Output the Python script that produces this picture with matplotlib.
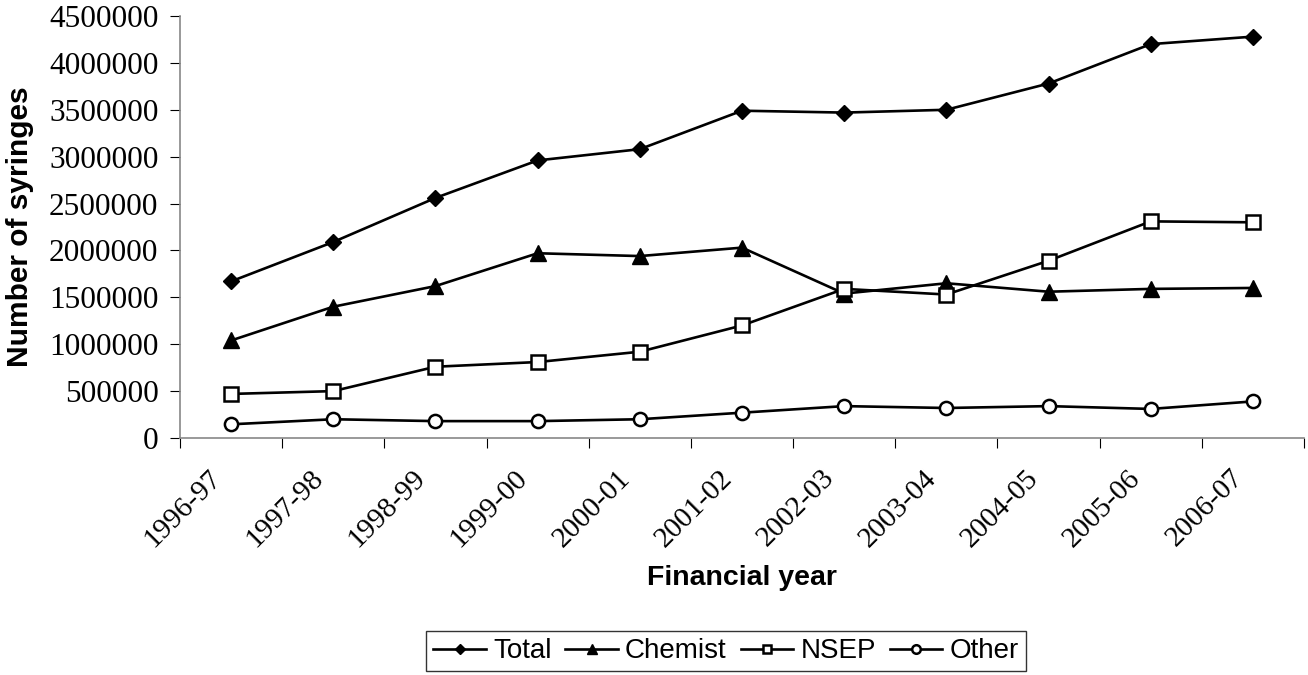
import matplotlib
matplotlib.use("Agg")
import matplotlib.pyplot as plt
from matplotlib.transforms import ScaledTranslation

years = ["1996-97", "1997-98", "1998-99", "1999-00", "2000-01", "2001-02",
         "2002-03", "2003-04", "2004-05", "2005-06", "2006-07"]
total = [1670000, 2090000, 2560000, 2960000, 3080000, 3490000,
         3470000, 3500000, 3780000, 4200000, 4280000]
chemist = [1040000, 1400000, 1620000, 1970000, 1940000, 2030000,
           1540000, 1650000, 1560000, 1590000, 1600000]
nsep = [470000, 500000, 760000, 810000, 920000, 1200000,
        1590000, 1530000, 1890000, 2310000, 2300000]
other = [146000, 200000, 180000, 180000, 200000, 270000,
         340000, 320000, 340000, 310000, 390000]

serif = "Liberation Serif"
sans = "Liberation Sans"

fig = plt.figure(figsize=(13.08, 6.75), dpi=100)
ax = fig.add_axes([180 / 1308, 1 - 438 / 675, 1124 / 1308, 422 / 675])

x = list(range(len(years)))
lw = 1.9
ax.plot(x, total, color="black", lw=lw, marker="D", ms=8, mfc="black",
        mec="black", label="Total")
ax.plot(x, chemist, color="black", lw=lw, marker="^", ms=11, mfc="black",
        mec="black", label="Chemist")
ax.plot(x, nsep, color="black", lw=lw, marker="s", ms=9.5, mfc="white",
        mec="black", mew=1.8, label="NSEP")
ax.plot(x, other, color="black", lw=lw, marker="o", ms=9.5, mfc="white",
        mec="black", mew=1.8, label="Other")

ax.set_xlim(-0.5, len(years) - 0.5)
ax.set_ylim(0, 4500000)
ax.set_yticks(range(0, 4500001, 500000))
ax.set_yticklabels([str(v) for v in range(0, 4500001, 500000)],
                   fontfamily=serif, fontsize=22.5)

# category ticks between points, labels at points
ax.set_xticks([i - 0.5 for i in range(len(years) + 1)])
ax.set_xticklabels([])
ax.set_xticks(x, minor=True)
ax.set_xticklabels(years, minor=True, rotation=45, ha="right", va="center",
                   rotation_mode="anchor", fontfamily=serif, fontsize=21)
ax.tick_params(axis="x", which="minor", length=0, pad=26)
ax.tick_params(axis="x", which="major", length=7, direction="out", color="black")
ax.tick_params(axis="y", length=7, direction="out", color="black", pad=8.5)
shift = ScaledTranslation(-0.14, 0, fig.dpi_scale_trans)
for lab in ax.get_xticklabels(minor=True):
    lab.set_transform(lab.get_transform() + shift)

for s in ["top", "right"]:
    ax.spines[s].set_visible(False)
for s in ["left", "bottom"]:
    ax.spines[s].set_color("#888888")
    ax.spines[s].set_linewidth(1.2)

ax.set_xlabel("Financial year", fontfamily=sans, fontweight="bold",
              fontsize=20.5, labelpad=9)
ax.set_ylabel("Number of syringes", fontfamily=sans, fontweight="bold",
              fontsize=21.5, labelpad=11)

leg = fig.legend(loc="center", bbox_to_anchor=(0.555, 0.035), ncol=4,
                 prop={"family": sans, "size": 20}, frameon=True,
                 fancybox=False, handlelength=1.9, handletextpad=0.25,
                 columnspacing=0.5, borderpad=0.25, markerscale=0.65)
leg.get_frame().set_edgecolor("black")
leg.get_frame().set_linewidth(1.0)

fig.savefig("out.png", dpi=100)
